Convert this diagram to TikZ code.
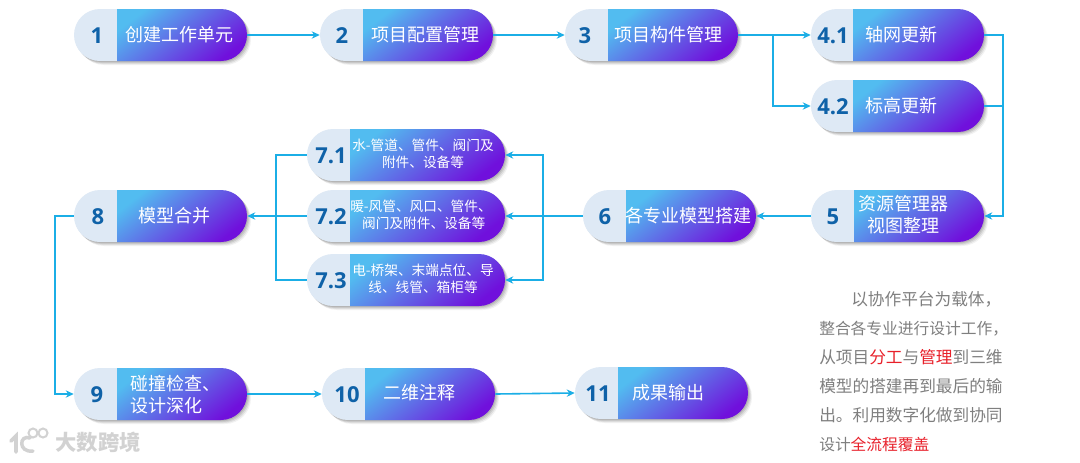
\documentclass[tikz,border=0pt]{standalone}
\usepackage{fontspec}
\setmainfont{Noto Sans CJK SC}
\newfontfamily\cjk{Noto Sans CJK SC}
\newfontfamily\numfont{Open Sans}
\usetikzlibrary{arrows.meta,shapes.misc,calc}
\definecolor{pilllight}{HTML}{DEE9F5}
\definecolor{gradstart}{HTML}{52BCF0}
\definecolor{gradend}{HTML}{7010DC}
\definecolor{numblue}{HTML}{0F62A8}
\definecolor{linkblue}{HTML}{1BAEE6}
\definecolor{bodygrey}{HTML}{7F7F7F}
\definecolor{bodyred}{HTML}{E8202A}
\definecolor{markgrey}{HTML}{D2D2D2}
\tikzset{
  x=0.75pt,y=-0.75pt,
  pillshape/.style={rounded rectangle,inner sep=0pt,minimum height=39pt},
  numtext/.style={font=\numfont\bfseries\fontsize{16.5pt}{18pt}\selectfont,text=numblue,inner sep=0pt},
  bigtext/.style={font=\cjk\fontsize{13.5pt}{16.6pt}\selectfont,text=white,inner sep=0pt,align=center},
  lefttext/.style={bigtext,align=left},
  smalltext/.style={font=\cjk\fontsize{10.25pt}{12.75pt}\selectfont,text=white,inner sep=0pt,align=center},
  link/.style={draw=linkblue,line width=1.2pt,line join=miter},
  arrowlink/.style={link,-{Stealth[length=6pt,width=5.5pt]}},
}
\newcommand{\pill}[7]{%
  \foreach \s/\o in {1/.10,2/.09,3/.08,4/.05}{%
    \fill[black,opacity=\o,rounded corners=19.5pt] ({#2+\s},{#3+\s}) rectangle ({#2+#4+\s},{#3+52+\s});
  }%
  \node[pillshape,minimum width=#4*0.75pt,path picture={%
      \fill[pilllight] (path picture bounding box.south west) rectangle ([xshift=#5*0.75pt]path picture bounding box.north west);
      \shade[left color=gradstart,right color=gradend,shading angle=38]
        ([xshift=#5*0.75pt]path picture bounding box.south west) rectangle (path picture bounding box.north east);
    }] (#1) at ({#2+#4/2},{#3+26}) {};
  \node[numtext] (#1n) at (#6,{#3+26.5}) {#7};
}
\begin{document}
\begin{tikzpicture}
\useasboundingbox[fill=white] (0,0) rectangle (1080,462);

% pills
\pill{p1}{74}{9}{173}{43}{97}{1}
\pill{p2}{320}{9}{173}{43}{342}{2}
\pill{p3}{565}{9}{173}{43}{585}{3}
\pill{p41}{811}{9}{173}{42}{833}{4.1}
\pill{p42}{811}{80}{173}{42}{833}{4.2}
\pill{p5}{811}{190}{173}{43}{833}{5}
\pill{p6}{583}{190}{173}{43}{605}{6}
\pill{p71}{307}{129}{198}{43}{331}{7.1}
\pill{p72}{307}{190}{198}{43}{331}{7.2}
\pill{p73}{307}{254}{198}{43}{331}{7.3}
\pill{p8}{74}{190}{173}{43}{98}{8}
\pill{p9}{74}{368}{173}{43}{97}{9}
\pill{p10}{322}{368}{173}{43}{347}{10}
\pill{p11}{575}{367}{173}{43}{598}{11}

% pill texts
\node[bigtext] (t1) at (179,35) {创建工作单元};
\node[bigtext] (t2) at (425,35) {项目配置管理};
\node[bigtext] (t3) at (668,35) {项目构件管理};
\node[bigtext] (t41) at (901,35) {轴网更新};
\node[bigtext] (t42) at (901,106) {标高更新};
\node[bigtext] (t5) at (903,215) {资源管理器\\视图整理};
\node[bigtext] (t6) at (688,216) {各专业模型搭建};
\node[smalltext] (t71) at (423,154) {水-管道、管件、阀门及\\附件、设备等};
\node[smalltext] (t72) at (421,215) {暖-风管、风口、管件、\\\hspace*{4pt}阀门及附件、设备等};
\node[smalltext] (t73) at (423,279) {电-桥架、末端点位、导\\线、线管、箱柜等};
\node[bigtext] (t8) at (174,216) {模型合并};
\node[lefttext,anchor=west] (t9) at (130,395) {碰撞检查、\\设计深化};
\node[bigtext] (t10) at (419,393) {二维注释};
\node[bigtext] (t11) at (668,393) {成果输出};

% junctions
\coordinate (j3) at (773,35);
\coordinate (j4a) at (1003,35);
\coordinate (j4b) at (1003,106);
\coordinate (j5) at (1003,216);
\coordinate (j6) at (543,216);
\coordinate (j61) at (543,155);
\coordinate (j63) at (543,280);
\coordinate (j7) at (276,216);
\coordinate (j71) at (276,155);
\coordinate (j73) at (276,280);
\coordinate (j8) at (55,216);
\coordinate (j9) at (55,394);

% connectors
\draw[arrowlink] (p1.east) -- (p2.west);
\draw[arrowlink] (p2.east) -- (p3.west);
\draw[arrowlink] (p3.east) -- (p41.west);
\draw[arrowlink] (j3) |- (p42.west);
\draw[link] (p41.east) -- (j4a) -- (j4b);
\draw[link] (p42.east) -- (j4b);
\draw[arrowlink] (j4b) -- (j5) -- (p5.east);
\draw[arrowlink] (p5.west) -- (p6.east);
\draw[arrowlink] (p6.west) -- (p72.east);
\draw[arrowlink] (j6) -- (j61) -- (p71.east);
\draw[arrowlink] (j6) -- (j63) -- (p73.east);
\draw[arrowlink] (p72.west) -- (p8.east);
\draw[link] (p71.west) -- (j71) -- (j73) -- (p73.west);
\draw[arrowlink] (p8.west) -- (j8) -- (j9) -- (p9.west);
\draw[arrowlink] (p9.east) -- (p10.west);
\draw[arrowlink] (p10.east) -- (p11.west);

% side note
\node[anchor=north west,inner sep=0pt,align=left,text=bodygrey,
      font=\cjk\fontsize{12.5pt}{21.7pt}\selectfont] (note) at (819,291.5)
 {\hspace*{24pt}以协作平台为载体，\\
  {\fontsize{11.8pt}{21.7pt}\selectfont 整合各专业进行设计工作，}\\
  从项目\textcolor{bodyred}{分工}与\textcolor{bodyred}{管理}到三维\\
  模型的搭建再到最后的输\\
  出。利用数字化做到协同\\
  {\fontsize{11.8pt}{21.7pt}\selectfont 设计\textcolor{bodyred}{全流程覆盖}}};

% watermark
\draw[markgrey,line width=2.8pt,line cap=round] (11,441) -- (16,436) -- (16,452);
\draw[markgrey,line width=2.6pt,line cap=round] (30,438) .. controls (19,434) and (18,453) .. (33,451);
\draw[markgrey,line width=1.5pt] (33,433) circle (4.5);
\draw[markgrey,line width=1.5pt] (43,433) circle (4.5);
\node[inner sep=0pt,text=markgrey,font=\cjk\bfseries\fontsize{16pt}{17pt}\selectfont] (mark) at (98,442) {大数跨境};
\end{tikzpicture}
\end{document}
